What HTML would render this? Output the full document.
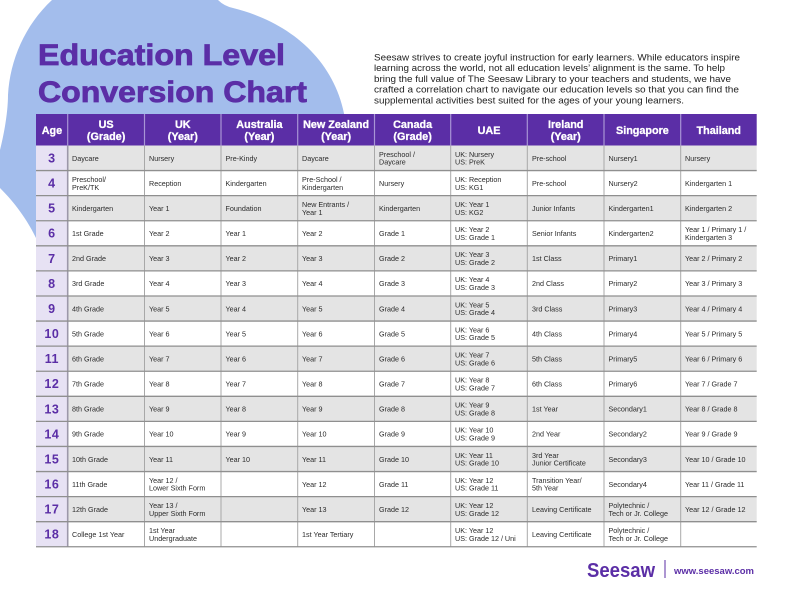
<!DOCTYPE html>
<html><head><meta charset="utf-8"><style>
html,body{margin:0;padding:0;background:#fff}
svg{display:block}
.t{font-family:"Liberation Sans",sans-serif;font-size:7.2px;fill:#2b2b2b}
.h{font-family:"Liberation Sans",sans-serif;font-size:10.8px;font-weight:bold;fill:#fff;text-anchor:middle;stroke:#fff;stroke-width:0.3px}
.a{font-family:"Liberation Sans",sans-serif;font-size:12.5px;font-weight:bold;fill:#5b2ea6;text-anchor:middle;letter-spacing:0.6px}
.p{font-family:"Liberation Sans",sans-serif;font-size:9.6px;fill:#222}
</style></head><body>
<svg width="792" height="612" viewBox="0 0 792 612" xmlns="http://www.w3.org/2000/svg">
<rect width="792" height="612" fill="#fff"/>
<path d="M52,0 L218,0 Q224,6 233,8 C290,22 335,60 345,118 L350,150 L350,250 L40,250 L36,238 C25,215 10,198 0,188 L0,150 C5,130 8,110 8,95 C10,60 25,25 52,0 Z" fill="#a3bdec"/>
<text x="38" y="65" font-family="Liberation Sans, sans-serif" font-weight="bold" font-size="30" fill="#5b2ea6" stroke="#5b2ea6" stroke-width="0.8" textLength="247" lengthAdjust="spacingAndGlyphs">Education Level</text>
<text x="38" y="102" font-family="Liberation Sans, sans-serif" font-weight="bold" font-size="30" fill="#5b2ea6" stroke="#5b2ea6" stroke-width="0.8" textLength="269" lengthAdjust="spacingAndGlyphs">Conversion Chart</text>
<text class="p" x="374" y="60.5" textLength="366" lengthAdjust="spacingAndGlyphs">Seesaw strives to create joyful instruction for early learners. While educators inspire</text>
<text class="p" x="374" y="71.2" textLength="351" lengthAdjust="spacingAndGlyphs">learning across the world, not all education levels’ alignment is the same. To help</text>
<text class="p" x="374" y="81.9" textLength="357" lengthAdjust="spacingAndGlyphs">bring the full value of The Seesaw Library to your teachers and students, we have</text>
<text class="p" x="374" y="92.6" textLength="365" lengthAdjust="spacingAndGlyphs">crafted a correlation chart to navigate our education levels so that you can find the</text>
<text class="p" x="374" y="103.3" textLength="310" lengthAdjust="spacingAndGlyphs">supplemental activities best suited for the ages of your young learners.</text>

<rect x="36" y="114" width="720.7" height="31.5" fill="#5b2ea6"/>
<g stroke="#a995d6" stroke-width="1.2">
<line x1="67.7" y1="114" x2="67.7" y2="145.5"/><line x1="144.5" y1="114" x2="144.5" y2="145.5"/><line x1="221" y1="114" x2="221" y2="145.5"/><line x1="297.7" y1="114" x2="297.7" y2="145.5"/><line x1="374.5" y1="114" x2="374.5" y2="145.5"/><line x1="450.7" y1="114" x2="450.7" y2="145.5"/><line x1="527.3" y1="114" x2="527.3" y2="145.5"/><line x1="604" y1="114" x2="604" y2="145.5"/><line x1="680.7" y1="114" x2="680.7" y2="145.5"/>
</g>
<text class="h" x="51.9" y="134">Age</text>
<text class="h" x="106.1" y="128">US<tspan x="106.1" y="140">(Grade)</tspan></text>
<text class="h" x="182.8" y="128">UK<tspan x="182.8" y="140">(Year)</tspan></text>
<text class="h" x="259.4" y="128">Australia<tspan x="259.4" y="140">(Year)</tspan></text>
<text class="h" x="336.1" y="128">New Zealand<tspan x="336.1" y="140">(Year)</tspan></text>
<text class="h" x="412.6" y="128">Canada<tspan x="412.6" y="140">(Grade)</tspan></text>
<text class="h" x="489" y="134">UAE</text>
<text class="h" x="565.7" y="128">Ireland<tspan x="565.7" y="140">(Year)</tspan></text>
<text class="h" x="642.4" y="134">Singapore</text>
<text class="h" x="718.7" y="134">Thailand</text>

<!-- row backgrounds -->
<rect x="36" y="145.5" width="720.7" height="401.3" fill="#ffffff"/>
<g fill="#e4e4e4">
<rect x="36" y="145.5" width="720.7" height="25.08"/>
<rect x="36" y="195.66" width="720.7" height="25.08"/>
<rect x="36" y="245.82" width="720.7" height="25.08"/>
<rect x="36" y="295.98" width="720.7" height="25.08"/>
<rect x="36" y="346.14" width="720.7" height="25.08"/>
<rect x="36" y="396.3" width="720.7" height="25.08"/>
<rect x="36" y="446.46" width="720.7" height="25.08"/>
<rect x="36" y="496.62" width="720.7" height="25.08"/>
</g>
<rect x="36" y="145.5" width="31.7" height="401.3" fill="#e7e2f4"/>
<g stroke="#a8a8a8" stroke-width="1">
<line x1="144.5" y1="145.5" x2="144.5" y2="546.8"/><line x1="221" y1="145.5" x2="221" y2="546.8"/><line x1="297.7" y1="145.5" x2="297.7" y2="546.8"/><line x1="374.5" y1="145.5" x2="374.5" y2="546.8"/><line x1="450.7" y1="145.5" x2="450.7" y2="546.8"/><line x1="527.3" y1="145.5" x2="527.3" y2="546.8"/><line x1="604" y1="145.5" x2="604" y2="546.8"/><line x1="680.7" y1="145.5" x2="680.7" y2="546.8"/>
</g>
<line x1="67.7" y1="145.5" x2="67.7" y2="546.8" stroke="#9c98aa" stroke-width="1.6"/>
<g stroke="#8f8f8f" stroke-width="1.3">
<line x1="36" y1="170.58" x2="756.7" y2="170.58"/><line x1="36" y1="195.66" x2="756.7" y2="195.66"/><line x1="36" y1="220.74" x2="756.7" y2="220.74"/><line x1="36" y1="245.82" x2="756.7" y2="245.82"/><line x1="36" y1="270.9" x2="756.7" y2="270.9"/><line x1="36" y1="295.98" x2="756.7" y2="295.98"/><line x1="36" y1="321.06" x2="756.7" y2="321.06"/><line x1="36" y1="346.14" x2="756.7" y2="346.14"/><line x1="36" y1="371.22" x2="756.7" y2="371.22"/><line x1="36" y1="396.3" x2="756.7" y2="396.3"/><line x1="36" y1="421.38" x2="756.7" y2="421.38"/><line x1="36" y1="446.46" x2="756.7" y2="446.46"/><line x1="36" y1="471.54" x2="756.7" y2="471.54"/><line x1="36" y1="496.62" x2="756.7" y2="496.62"/><line x1="36" y1="521.7" x2="756.7" y2="521.7"/><line x1="36" y1="546.78" x2="756.7" y2="546.78"/>
</g>

<g transform="translate(0,145.5)">
<text class="a" x="51.9" y="17">3</text>
<text class="t" x="72" y="15.3">Daycare</text>
<text class="t" x="149" y="15.3">Nursery</text>
<text class="t" x="225.5" y="15.3">Pre-Kindy</text>
<text class="t" x="302" y="15.3">Daycare</text>
<text class="t" x="379" y="11.3">Preschool /<tspan x="379" y="19.2">Daycare</tspan></text>
<text class="t" x="455" y="11.3">UK: Nursery<tspan x="455" y="19.2">US: PreK</tspan></text>
<text class="t" x="532" y="15.3">Pre-school</text>
<text class="t" x="608.5" y="15.3">Nursery1</text>
<text class="t" x="685" y="15.3">Nursery</text>
</g>
<g transform="translate(0,170.58)">
<text class="a" x="51.9" y="17">4</text>
<text class="t" x="72" y="11.3">Preschool/<tspan x="72" y="19.2">PreK/TK</tspan></text>
<text class="t" x="149" y="15.3">Reception</text>
<text class="t" x="225.5" y="15.3">Kindergarten</text>
<text class="t" x="302" y="11.3">Pre-School /<tspan x="302" y="19.2">Kindergarten</tspan></text>
<text class="t" x="379" y="15.3">Nursery</text>
<text class="t" x="455" y="11.3">UK: Reception<tspan x="455" y="19.2">US: KG1</tspan></text>
<text class="t" x="532" y="15.3">Pre-school</text>
<text class="t" x="608.5" y="15.3">Nursery2</text>
<text class="t" x="685" y="15.3">Kindergarten 1</text>
</g>
<g transform="translate(0,195.66)">
<text class="a" x="51.9" y="17">5</text>
<text class="t" x="72" y="15.3">Kindergarten</text>
<text class="t" x="149" y="15.3">Year 1</text>
<text class="t" x="225.5" y="15.3">Foundation</text>
<text class="t" x="302" y="11.3">New Entrants /<tspan x="302" y="19.2">Year 1</tspan></text>
<text class="t" x="379" y="15.3">Kindergarten</text>
<text class="t" x="455" y="11.3">UK: Year 1<tspan x="455" y="19.2">US: KG2</tspan></text>
<text class="t" x="532" y="15.3">Junior Infants</text>
<text class="t" x="608.5" y="15.3">Kindergarten1</text>
<text class="t" x="685" y="15.3">Kindergarten 2</text>
</g>
<g transform="translate(0,220.74)">
<text class="a" x="51.9" y="17">6</text>
<text class="t" x="72" y="15.3">1st Grade</text>
<text class="t" x="149" y="15.3">Year 2</text>
<text class="t" x="225.5" y="15.3">Year 1</text>
<text class="t" x="302" y="15.3">Year 2</text>
<text class="t" x="379" y="15.3">Grade 1</text>
<text class="t" x="455" y="11.3">UK: Year 2<tspan x="455" y="19.2">US: Grade 1</tspan></text>
<text class="t" x="532" y="15.3">Senior Infants</text>
<text class="t" x="608.5" y="15.3">Kindergarten2</text>
<text class="t" x="685" y="11.3">Year 1 / Primary 1 /<tspan x="685" y="19.2">Kindergarten 3</tspan></text>
</g>
<g transform="translate(0,245.82)">
<text class="a" x="51.9" y="17">7</text>
<text class="t" x="72" y="15.3">2nd Grade</text>
<text class="t" x="149" y="15.3">Year 3</text>
<text class="t" x="225.5" y="15.3">Year 2</text>
<text class="t" x="302" y="15.3">Year 3</text>
<text class="t" x="379" y="15.3">Grade 2</text>
<text class="t" x="455" y="11.3">UK: Year 3<tspan x="455" y="19.2">US: Grade 2</tspan></text>
<text class="t" x="532" y="15.3">1st Class</text>
<text class="t" x="608.5" y="15.3">Primary1</text>
<text class="t" x="685" y="15.3">Year 2 / Primary 2</text>
</g>
<g transform="translate(0,270.9)">
<text class="a" x="51.9" y="17">8</text>
<text class="t" x="72" y="15.3">3rd Grade</text>
<text class="t" x="149" y="15.3">Year 4</text>
<text class="t" x="225.5" y="15.3">Year 3</text>
<text class="t" x="302" y="15.3">Year 4</text>
<text class="t" x="379" y="15.3">Grade 3</text>
<text class="t" x="455" y="11.3">UK: Year 4<tspan x="455" y="19.2">US: Grade 3</tspan></text>
<text class="t" x="532" y="15.3">2nd Class</text>
<text class="t" x="608.5" y="15.3">Primary2</text>
<text class="t" x="685" y="15.3">Year 3 / Primary 3</text>
</g>
<g transform="translate(0,295.98)">
<text class="a" x="51.9" y="17">9</text>
<text class="t" x="72" y="15.3">4th Grade</text>
<text class="t" x="149" y="15.3">Year 5</text>
<text class="t" x="225.5" y="15.3">Year 4</text>
<text class="t" x="302" y="15.3">Year 5</text>
<text class="t" x="379" y="15.3">Grade 4</text>
<text class="t" x="455" y="11.3">UK: Year 5<tspan x="455" y="19.2">US: Grade 4</tspan></text>
<text class="t" x="532" y="15.3">3rd Class</text>
<text class="t" x="608.5" y="15.3">Primary3</text>
<text class="t" x="685" y="15.3">Year 4 / Primary 4</text>
</g>
<g transform="translate(0,321.06)">
<text class="a" x="51.9" y="17">10</text>
<text class="t" x="72" y="15.3">5th Grade</text>
<text class="t" x="149" y="15.3">Year 6</text>
<text class="t" x="225.5" y="15.3">Year 5</text>
<text class="t" x="302" y="15.3">Year 6</text>
<text class="t" x="379" y="15.3">Grade 5</text>
<text class="t" x="455" y="11.3">UK: Year 6<tspan x="455" y="19.2">US: Grade 5</tspan></text>
<text class="t" x="532" y="15.3">4th Class</text>
<text class="t" x="608.5" y="15.3">Primary4</text>
<text class="t" x="685" y="15.3">Year 5 / Primary 5</text>
</g>
<g transform="translate(0,346.14)">
<text class="a" x="51.9" y="17">11</text>
<text class="t" x="72" y="15.3">6th Grade</text>
<text class="t" x="149" y="15.3">Year 7</text>
<text class="t" x="225.5" y="15.3">Year 6</text>
<text class="t" x="302" y="15.3">Year 7</text>
<text class="t" x="379" y="15.3">Grade 6</text>
<text class="t" x="455" y="11.3">UK: Year 7<tspan x="455" y="19.2">US: Grade 6</tspan></text>
<text class="t" x="532" y="15.3">5th Class</text>
<text class="t" x="608.5" y="15.3">Primary5</text>
<text class="t" x="685" y="15.3">Year 6 / Primary 6</text>
</g>
<g transform="translate(0,371.22)">
<text class="a" x="51.9" y="17">12</text>
<text class="t" x="72" y="15.3">7th Grade</text>
<text class="t" x="149" y="15.3">Year 8</text>
<text class="t" x="225.5" y="15.3">Year 7</text>
<text class="t" x="302" y="15.3">Year 8</text>
<text class="t" x="379" y="15.3">Grade 7</text>
<text class="t" x="455" y="11.3">UK: Year 8<tspan x="455" y="19.2">US: Grade 7</tspan></text>
<text class="t" x="532" y="15.3">6th Class</text>
<text class="t" x="608.5" y="15.3">Primary6</text>
<text class="t" x="685" y="15.3">Year 7 / Grade 7</text>
</g>
<g transform="translate(0,396.3)">
<text class="a" x="51.9" y="17">13</text>
<text class="t" x="72" y="15.3">8th Grade</text>
<text class="t" x="149" y="15.3">Year 9</text>
<text class="t" x="225.5" y="15.3">Year 8</text>
<text class="t" x="302" y="15.3">Year 9</text>
<text class="t" x="379" y="15.3">Grade 8</text>
<text class="t" x="455" y="11.3">UK: Year 9<tspan x="455" y="19.2">US: Grade 8</tspan></text>
<text class="t" x="532" y="15.3">1st Year</text>
<text class="t" x="608.5" y="15.3">Secondary1</text>
<text class="t" x="685" y="15.3">Year 8 / Grade 8</text>
</g>
<g transform="translate(0,421.38)">
<text class="a" x="51.9" y="17">14</text>
<text class="t" x="72" y="15.3">9th Grade</text>
<text class="t" x="149" y="15.3">Year 10</text>
<text class="t" x="225.5" y="15.3">Year 9</text>
<text class="t" x="302" y="15.3">Year 10</text>
<text class="t" x="379" y="15.3">Grade 9</text>
<text class="t" x="455" y="11.3">UK: Year 10<tspan x="455" y="19.2">US: Grade 9</tspan></text>
<text class="t" x="532" y="15.3">2nd Year</text>
<text class="t" x="608.5" y="15.3">Secondary2</text>
<text class="t" x="685" y="15.3">Year 9 / Grade 9</text>
</g>
<g transform="translate(0,446.46)">
<text class="a" x="51.9" y="17">15</text>
<text class="t" x="72" y="15.3">10th Grade</text>
<text class="t" x="149" y="15.3">Year 11</text>
<text class="t" x="225.5" y="15.3">Year 10</text>
<text class="t" x="302" y="15.3">Year 11</text>
<text class="t" x="379" y="15.3">Grade 10</text>
<text class="t" x="455" y="11.3">UK: Year 11<tspan x="455" y="19.2">US: Grade 10</tspan></text>
<text class="t" x="532" y="11.3">3rd Year<tspan x="532" y="19.2">Junior Certificate</tspan></text>
<text class="t" x="608.5" y="15.3">Secondary3</text>
<text class="t" x="685" y="15.3">Year 10 / Grade 10</text>
</g>
<g transform="translate(0,471.54)">
<text class="a" x="51.9" y="17">16</text>
<text class="t" x="72" y="15.3">11th Grade</text>
<text class="t" x="149" y="11.3">Year 12 /<tspan x="149" y="19.2">Lower Sixth Form</tspan></text>
<text class="t" x="302" y="15.3">Year 12</text>
<text class="t" x="379" y="15.3">Grade 11</text>
<text class="t" x="455" y="11.3">UK: Year 12<tspan x="455" y="19.2">US: Grade 11</tspan></text>
<text class="t" x="532" y="11.3">Transition Year/<tspan x="532" y="19.2">5th Year</tspan></text>
<text class="t" x="608.5" y="15.3">Secondary4</text>
<text class="t" x="685" y="15.3">Year 11 / Grade 11</text>
</g>
<g transform="translate(0,496.62)">
<text class="a" x="51.9" y="17">17</text>
<text class="t" x="72" y="15.3">12th Grade</text>
<text class="t" x="149" y="11.3">Year 13 /<tspan x="149" y="19.2">Upper Sixth Form</tspan></text>
<text class="t" x="302" y="15.3">Year 13</text>
<text class="t" x="379" y="15.3">Grade 12</text>
<text class="t" x="455" y="11.3">UK: Year 12<tspan x="455" y="19.2">US: Grade 12</tspan></text>
<text class="t" x="532" y="15.3">Leaving Certificate</text>
<text class="t" x="608.5" y="11.3">Polytechnic /<tspan x="608.5" y="19.2">Tech or Jr. College</tspan></text>
<text class="t" x="685" y="15.3">Year 12 / Grade 12</text>
</g>
<g transform="translate(0,521.7)">
<text class="a" x="51.9" y="17">18</text>
<text class="t" x="72" y="15.3">College 1st Year</text>
<text class="t" x="149" y="11.3">1st Year<tspan x="149" y="19.2">Undergraduate</tspan></text>
<text class="t" x="302" y="15.3">1st Year Tertiary</text>
<text class="t" x="455" y="11.3">UK: Year 12<tspan x="455" y="19.2">US: Grade 12 / Uni</tspan></text>
<text class="t" x="532" y="15.3">Leaving Certificate</text>
<text class="t" x="608.5" y="11.3">Polytechnic /<tspan x="608.5" y="19.2">Tech or Jr. College</tspan></text>
</g>

<text x="587" y="577" font-family="Liberation Sans, sans-serif" font-weight="bold" font-size="20" fill="#5b2ea6" textLength="68" lengthAdjust="spacingAndGlyphs">Seesaw</text>
<line x1="665" y1="560" x2="665" y2="578" stroke="#5b2ea6" stroke-width="1"/>
<text x="674" y="574" font-family="Liberation Sans, sans-serif" font-weight="bold" font-size="9.5" fill="#5b2ea6" textLength="80" lengthAdjust="spacingAndGlyphs">www.seesaw.com</text>
</svg>
</body></html>
